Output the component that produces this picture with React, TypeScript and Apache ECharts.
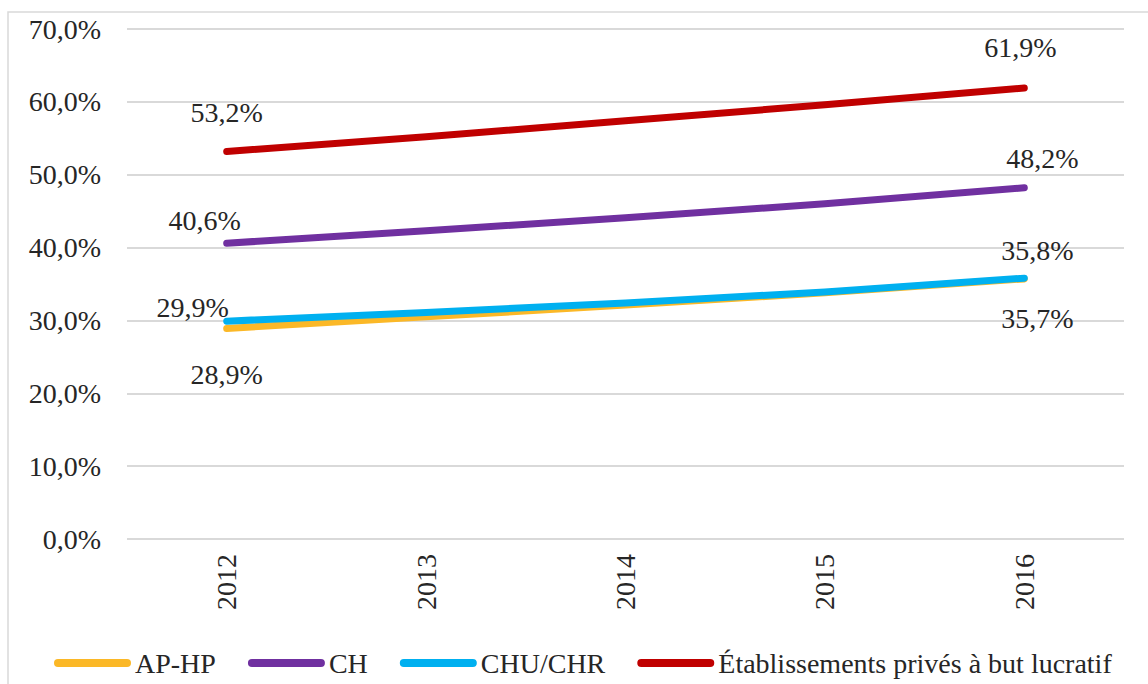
import React, { useEffect, useRef } from "react";
import * as echarts from "echarts";

const years = ["2012", "2013", "2014", "2015", "2016"];
const seriesNames = ["AP-HP", "CH", "CHU/CHR", "Établissements privés à but lucratif"];
const apHp = [28.9, 30.5, 32.1, 33.8, 35.7];
const ch = [40.6, 42.3, 44.1, 46.0, 48.2];
const chuChr = [29.9, 31.1, 32.4, 33.9, 35.8];
const prives = [53.2, 55.2, 57.4, 59.6, 61.9];
const colors = ["#FBB827", "#7030A0", "#00B0F0", "#C00000"];
const yTicks = [0, 10, 20, 30, 40, 50, 60, 70];

// label offsets [first, last] relative to the point (centre of text)
const labelOffsets: number[][][] = [
  [[0, 46], [13, 40]],
  [[-22, -23], [18, -29]],
  [[-34, -14], [13, -28]],
  [[0, -39], [-4, -41]],
];

const fmt = (v: number) => v.toFixed(1).replace(".", ",") + "%";
const FONT = "'Liberation Serif', 'Times New Roman', serif";

export default function App() {
  const ref = useRef<HTMLDivElement>(null);
  useEffect(() => {
    if (!ref.current) return;
    const chart = echarts.init(ref.current, null, { renderer: "svg" });
    const all = [apHp, ch, chuChr, prives];
    const series = all.map((vals, si) => ({
      name: seriesNames[si],
      type: "line",
      symbol: "circle",
      symbolSize: 1,
      showSymbol: true,
      itemStyle: { color: colors[si] },
      lineStyle: { color: colors[si], width: 7, cap: "round", join: "round" },
      z: 2 + si,
      data: vals.map((v, i) => {
        const isEnd = i === 0 || i === vals.length - 1;
        if (!isEnd) return { value: v, label: { show: false } };
        const off = labelOffsets[si][i === 0 ? 0 : 1];
        return {
          value: v,
          label: {
            show: true,
            position: "inside",
            offset: off,
            formatter: () => fmt(v),
            fontFamily: FONT,
            fontSize: 28,
            color: "#262626",
            align: "center",
            verticalAlign: "middle",
          },
        };
      }),
    }));
    chart.setOption({
      animation: false,
      backgroundColor: "#ffffff",
      color: colors,
      textStyle: { fontFamily: FONT },
      graphic: [
        {
          type: "rect",
          shape: { x: 8, y: 12, width: 1160, height: 700 },
          style: { fill: "none", stroke: "#d9d9d9", lineWidth: 1.5 },
          z: -10,
          silent: true,
        },
      ],
      grid: { left: 127, right: 24, top: 29, bottom: 145, containLabel: false },
      legend: {
        data: seriesNames,
        left: 49,
        top: 644,
        itemWidth: 77,
        itemHeight: 8,
        itemGap: 32,
        icon: "path://M4,0 H73 A4,4 0 0 1 73,8 H4 A4,4 0 0 1 4,0 Z",
        textStyle: { fontFamily: FONT, fontSize: 28, color: "#262626", padding: [0, 0, 0, -1] },
      },
      xAxis: {
        type: "category",
        data: years,
        boundaryGap: true,
        axisLine: { show: false },
        axisTick: { show: false },
        axisLabel: {
          rotate: 90,
          margin: 15,
          fontFamily: FONT,
          fontSize: 28,
          color: "#262626",
        },
      },
      yAxis: {
        type: "value",
        min: yTicks[0],
        max: yTicks[yTicks.length - 1],
        interval: 10,
        axisLine: { show: false },
        axisTick: { show: false },
        splitLine: { lineStyle: { color: "#d9d9d9", width: 2 } },
        axisLabel: {
          margin: 26,
          fontFamily: FONT,
          fontSize: 28,
          color: "#262626",
          formatter: (v: number) => fmt(v),
        },
      },
      series,
    });
    return () => chart.dispose();
  }, []);
  return (
    <div
      ref={ref}
      style={{ position: "absolute", left: 0, top: 0, width: 1148, height: 684 }}
    />
  );
}
